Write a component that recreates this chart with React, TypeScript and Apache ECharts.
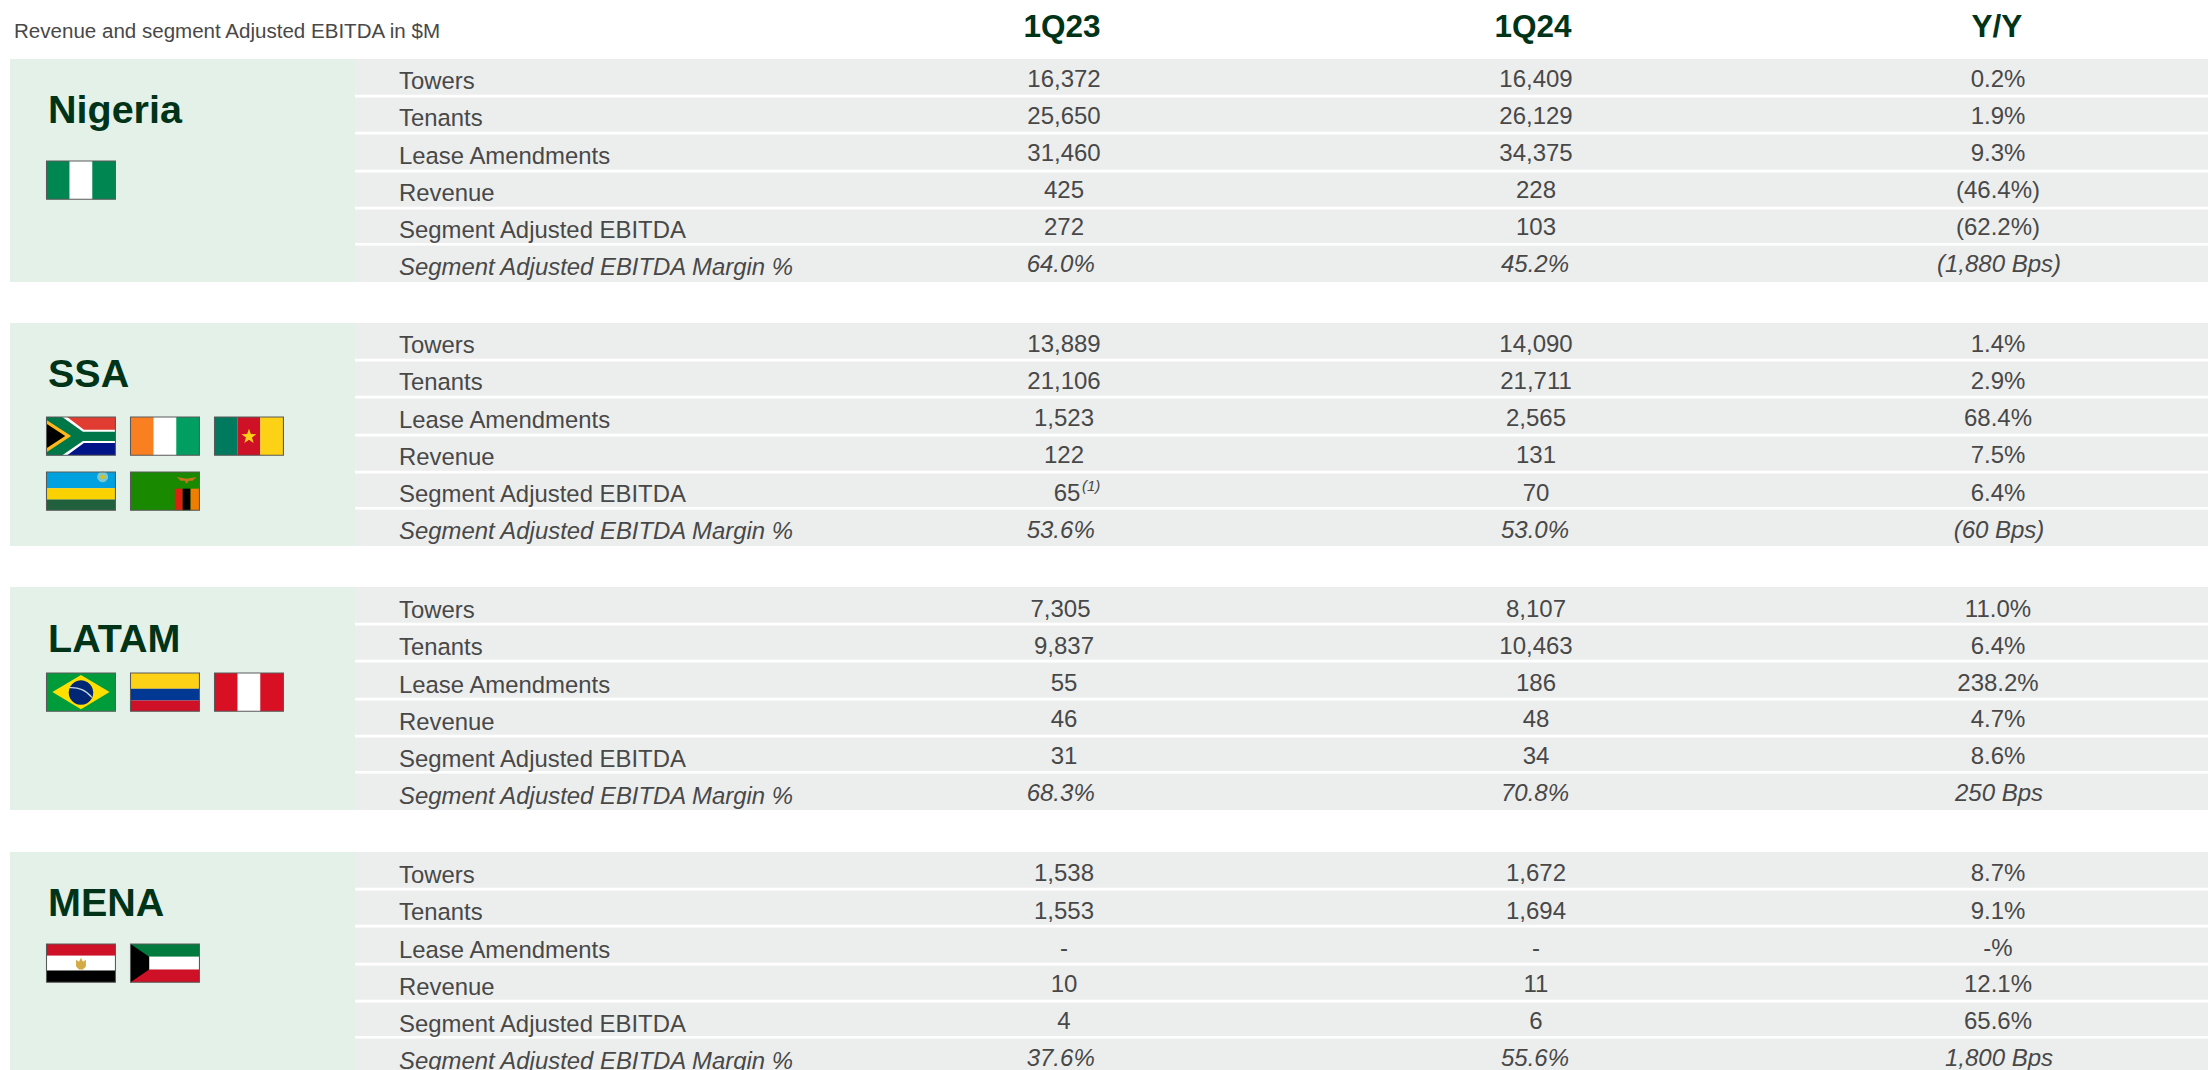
import React, { useEffect, useRef } from "react";
import * as echarts from "echarts";

const FONT = '"Liberation Sans", Arial, sans-serif';
const subtitle = "Revenue and segment Adjusted EBITDA in $M";
const columnHeads = ["1Q23", "1Q24", "Y/Y"];
const rowLabels = ["Towers", "Tenants", "Lease Amendments", "Revenue", "Segment Adjusted EBITDA", "Segment Adjusted EBITDA Margin %"];
const regions = ["Nigeria", "SSA", "LATAM", "MENA"];

const nigeriaQ23 = ["16,372", "25,650", "31,460", "425", "272", "64.0%"];
const nigeriaQ24 = ["16,409", "26,129", "34,375", "228", "103", "45.2%"];
const nigeriaYY = ["0.2%", "1.9%", "9.3%", "(46.4%)", "(62.2%)", "(1,880 Bps)"];
const ssaQ23 = ["13,889", "21,106", "1,523", "122", "65", "53.6%"];
const ssaQ24 = ["14,090", "21,711", "2,565", "131", "70", "53.0%"];
const ssaYY = ["1.4%", "2.9%", "68.4%", "7.5%", "6.4%", "(60 Bps)"];
const latamQ23 = ["7,305", "9,837", "55", "46", "31", "68.3%"];
const latamQ24 = ["8,107", "10,463", "186", "48", "34", "70.8%"];
const latamYY = ["11.0%", "6.4%", "238.2%", "4.7%", "8.6%", "250 Bps"];
const menaQ23 = ["1,538", "1,553", "-", "10", "4", "37.6%"];
const menaQ24 = ["1,672", "1,694", "-", "11", "6", "55.6%"];
const menaYY = ["8.7%", "9.1%", "-%", "12.1%", "65.6%", "1,800 Bps"];

const q23 = [nigeriaQ23, ssaQ23, latamQ23, menaQ23];
const q24 = [nigeriaQ24, ssaQ24, latamQ24, menaQ24];
const yy = [nigeriaYY, ssaYY, latamYY, menaYY];

// layout
const W = 2208, H = 1070;
const blockTops = [59, 323, 587, 852];
const blockH = 223;
const panelL = 10, panelR = 355;
const sepOffsets = [35.8, 72.8, 110.8, 147.8, 184];
const labelBase = [29, 66, 104, 141, 178, 215];
const labelShift = [0, 0.5, 1, 1];
const valueBaseByBlock = [
  [27.7, 64.3, 101.7, 138.7, 175.7, 212.7],
  [28, 65.3, 102, 139.7, 177, 214.3],
  [29, 66.3, 103, 139.7, 176.3, 213.7],
  [28.7, 66.3, 103, 139.7, 176.3, 213],
];
const colX = [1064, 1536, 1998];
const colXItalic = [1060.7, 1535, 1999];
const headX = [1062, 1533, 1997];
const titleBase = [124.5, 388, 653, 917];
const flagRows: [string, number, number][][] = [
  [["ng", 46.5, 161]],
  [["za", 46.5, 417], ["ci", 130.5, 417], ["cm", 214.5, 417], ["rw", 46.5, 472], ["zm", 130.5, 472]],
  [["br", 46.5, 673], ["co", 130.5, 673], ["pe", 214.5, 673]],
  [["eg", 46.5, 944], ["kw", 130.5, 944]],
];

const FW = 70, FH = 39;
const r = (x: number, y: number, w: number, h: number, fill: string) => ({ type: "rect", shape: { x, y, width: w, height: h }, style: { fill }, silent: true });
const poly = (points: number[][], fill: string) => ({ type: "polygon", shape: { points }, style: { fill }, silent: true });
const vert = (a: string, b: string, c: string) => [r(0, 0, 23.5, FH, a), r(23.5, 0, 23, FH, b), r(46.5, 0, 23.5, FH, c)];
const star = (cx: number, cy: number, R: number, fill: string) => {
  const pts: number[][] = [];
  for (let i = 0; i < 10; i++) {
    const rad = i % 2 ? R * 0.4 : R;
    const a = -Math.PI / 2 + (i * Math.PI) / 5;
    pts.push([cx + rad * Math.cos(a), cy + rad * Math.sin(a)]);
  }
  return poly(pts, fill);
};
const flagArt: Record<string, any[]> = {
  ng: vert("#008751", "#ffffff", "#008751"),
  ci: vert("#f97f21", "#ffffff", "#009e60"),
  pe: vert("#d91023", "#ffffff", "#d91023"),
  cm: [...vert("#007a5e", "#ce1126", "#fcd116"), star(35, 20, 8, "#fcd116")],
  za: [
    r(0, 0, FW, 19.5, "#e03c31"),
    r(0, 19.5, FW, 19.5, "#001489"),
    poly([[21, 0], [38, 13], [70, 13], [70, 26.5], [38, 26.5], [21, 39], [0, 39], [0, 0]], "#ffffff"),
    poly([[0, 0], [16, 0], [37, 15], [70, 15], [70, 24.5], [37, 24.5], [16, 39], [0, 39]], "#007749"),
    poly([[0, 3], [25, 19.5], [0, 36]], "#ffb81c"),
    poly([[0, 7], [19, 19.5], [0, 32]], "#000000"),
  ],
  rw: [
    r(0, 0, FW, 16.5, "#00a1de"),
    r(0, 16.5, FW, 11.5, "#fad201"),
    r(0, 28, FW, 11, "#20603d"),
    { type: "circle", shape: { cx: 57, cy: 5, r: 5.5 }, style: { fill: "#7cc8cf" }, silent: true },
    { type: "circle", shape: { cx: 57, cy: 5, r: 2.2 }, style: { fill: "#e5be01" }, silent: true },
  ],
  zm: [
    r(0, 0, FW, FH, "#198a00"),
    r(45, 17, 8, 22, "#de2010"),
    r(53, 17, 8, 22, "#000000"),
    r(61, 17, 9, 22, "#ef7d00"),
    poly([[47, 5], [57, 7], [67, 5], [63, 9], [59, 9], [57, 12], [55, 9], [51, 9]], "#c9741c"),
  ],
  br: [
    r(0, 0, FW, FH, "#009c3b"),
    poly([[6, 19.5], [35, 2], [64, 19.5], [35, 37]], "#ffdf00"),
    { type: "circle", shape: { cx: 35, cy: 20, r: 12.5 }, style: { fill: "#002776" }, silent: true },
    { type: "bezierCurve", shape: { x1: 23, y1: 15, cpx1: 32, cpy1: 14, cpx2: 41, cpy2: 18, x2: 46, y2: 25 }, style: { stroke: "#c7d3de", lineWidth: 1.2, fill: "none" }, silent: true },
  ],
  co: [r(0, 0, FW, 16, "#fcd116"), r(0, 16, FW, 12, "#003893"), r(0, 28, FW, 11, "#ce1126")],
  eg: [
    r(0, 0, FW, 12, "#ce1126"),
    r(0, 12, FW, 15, "#ffffff"),
    r(0, 27, FW, 12, "#000000"),
    poly([[30, 16], [33, 18], [35, 14], [37, 18], [40, 16], [40, 23], [37, 26], [33, 26], [30, 23]], "#d4aa45"),
  ],
  kw: [
    r(0, 0, FW, 13, "#007a3d"),
    r(0, 13, FW, 13, "#ffffff"),
    r(0, 26, FW, 13, "#ce1126"),
    poly([[0, 0], [19, 13], [19, 26], [0, 39]], "#000000"),
  ],
};

const text = (t: string, x: number, y: number, size: number, fill: string, opts: any = {}) => ({
  type: "text",
  x,
  y,
  silent: true,
  style: { text: t, x: 0, y: 0, fill, font: `${opts.italic ? "italic " : ""}${opts.bold ? "bold " : ""}${size}px ${FONT}`, align: opts.align || "left", verticalAlign: "bottom" },
});

function buildGraphic() {
  const els: any[] = [];
  const dark = "#003318";
  const txt = "#484848";
  // offset from the wanted baseline to the bottom of the text box
  const base = (y: number, size: number) => y + size * 0.125;
  const bodyNudge = 1.2;
  els.push(text(subtitle, 14, base(38, 20.55), 20.55, txt));
  columnHeads.forEach((h, i) => els.push(text(h, headX[i], base(38.3, 31.5), 31.5, dark, { bold: true, align: "center" })));
  regions.forEach((name, b) => {
    const top = blockTops[b];
    els.push(r(panelL, top, panelR - panelL, blockH, "#e4f1e9"));
    els.push(r(panelR, top, W - panelR, blockH, "#eceeed"));
    sepOffsets.forEach((o) => els.push(r(panelR, top + o, W - panelR, 2.6, "#ffffff")));
    els.push(text(name, 48, base(titleBase[b], 39.5), 39.5, dark, { bold: true }));
    rowLabels.forEach((lab, i) => {
      const italic = i === 5;
      els.push(text(lab, 399, base(top + labelBase[i] + labelShift[b] + bodyNudge, 23.9), 23.9, txt, { italic }));
      [q23, q24, yy].forEach((col, c) => {
        let x = italic ? colXItalic[c] : colX[c];
        if (c === 0 && b === 1 && i === 4) x = 1067;
        if (c === 0 && b === 2 && i === 0) x = 1060.5;
        els.push(text(col[b][i], x, base(top + valueBaseByBlock[b][i] + bodyNudge, 24), 24, txt, { italic, align: "center" }));
      });
    });
    flagRows[b].forEach(([code, x, y]) => {
      els.push({
        type: "group",
        x,
        y,
        scaleX: 0.985,
        scaleY: 0.98,
        children: [
          ...flagArt[code],
          { type: "rect", shape: { x: 0, y: 0, width: FW, height: FH }, style: { fill: "none", stroke: "#5a5a5a", lineWidth: 1.1 }, silent: true },
        ],
      });
    });
  });
  els.push(text("(1)", 1082, base(491, 15), 15, txt, { italic: true }));
  return els;
}

export default function App() {
  const ref = useRef<HTMLDivElement>(null);
  useEffect(() => {
    document.body.style.margin = "0";
    const chart = echarts.init(ref.current!, undefined, { renderer: "svg" });
    chart.setOption({ animation: false, backgroundColor: "#ffffff", graphic: { elements: buildGraphic() } });
    return () => chart.dispose();
  }, []);
  return <div ref={ref} style={{ position: "fixed", left: 0, top: 0, width: W, height: H }} />;
}
